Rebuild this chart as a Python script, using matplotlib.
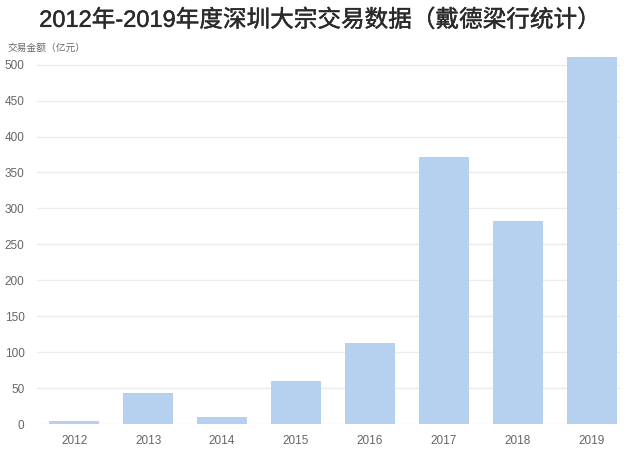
import matplotlib
matplotlib.use("Agg")
from matplotlib import pyplot as plt
from matplotlib import patheffects

plt.rcParams['font.family'] = ['Liberation Sans', 'Noto Sans CJK SC', 'DejaVu Sans']

years = ['2012', '2013', '2014', '2015', '2016', '2017', '2018', '2019']
amounts = [4, 43, 10, 60, 113, 372, 283, 511]
yticks = [0, 50, 100, 150, 200, 250, 300, 350, 400, 450, 500]

fig = plt.figure(figsize=(6.4, 4.53), dpi=100)
ax = fig.add_axes([0.058, 0.064, 0.911, 0.817])

x = range(len(years))
ax.bar(x, amounts, width=0.68, color='#b5d1ef', zorder=3)

ax.set_xlim(-0.5, 7.38)
ax.set_ylim(0, 515)
ax.set_yticks(yticks)
ax.set_xticks(list(x))
ax.set_xticklabels(years)
ax.grid(axis='y', color='#ececec', linewidth=1, zorder=0)
for s in ax.spines.values():
    s.set_visible(False)
ax.tick_params(length=0, labelsize=8.5, colors='#666666')
ax.tick_params(axis='y', pad=9)
ax.tick_params(axis='x', pad=8)

# regular weight with a thin stroke to get a medium-looking title
title = fig.text(0.5, 0.955, '2012年-2019年度深圳大宗交易数据（戴德梁行统计）',
                 ha='center', va='center', fontsize=17, color='#2a2a2a')
title.set_path_effects([patheffects.withStroke(linewidth=0.3, foreground='#2a2a2a')])
fig.text(0.012, 0.895, '交易金额（亿元）', ha='left', va='center', fontsize=7, color='#666666')

fig.savefig('out.png', dpi=100)
